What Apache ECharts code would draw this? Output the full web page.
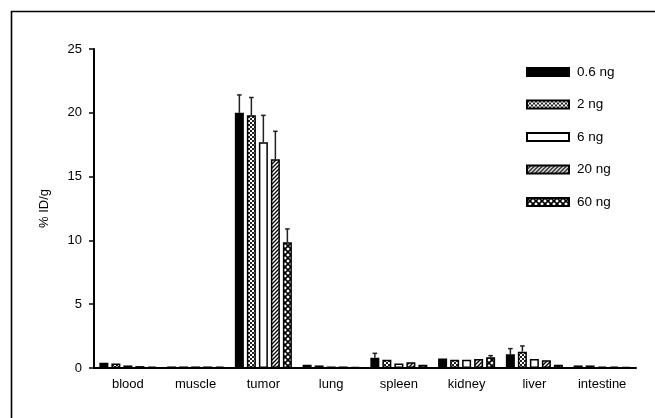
<!DOCTYPE html>
<html><head><meta charset="utf-8">
<script src="https://cdn.jsdelivr.net/npm/echarts@6/dist/echarts.min.js"></script>
<style>html,body{margin:0;padding:0;background:#fff}#c{width:655px;height:418px}</style>
</head><body><div id="c"></div>
<script>
// ---- data ----
const categories = ['blood','muscle','tumor','lung','spleen','kidney','liver','intestine'];
const seriesNames = ['0.6 ng','2 ng','6 ng','20 ng','60 ng'];
const v06 = [0.42,0.12,20.0,0.25,0.8,0.75,1.07,0.2];
const e06 = [0.05,0,1.4,0.03,0.35,0.1,0.45,0.03];
const v2  = [0.35,0.12,19.8,0.2,0.65,0.65,1.28,0.2];
const e2  = [0.05,0,1.4,0.03,0.1,0.05,0.45,0.03];
const v6  = [0.2,0.12,17.7,0.12,0.35,0.65,0.7,0.1];
const e6  = [0.03,0,2.1,0.02,0.05,0.05,0.1,0.02];
const v20 = [0.15,0.12,16.35,0.12,0.45,0.7,0.6,0.1];
const e20 = [0.03,0,2.2,0.02,0.08,0.08,0.1,0.02];
const v60 = [0.1,0.1,9.85,0.08,0.25,0.85,0.25,0.08];
const e60 = [0.02,0,1.05,0.02,0.05,0.12,0.05,0.02];
const yTicks = [0,5,10,15,20,25];

const values = [v06, v2, v6, v20, v60];
const errors = [e06, e2, e6, e20, e60];

// ---- patterns ----
function pattern(kind){
  const c = document.createElement('canvas');
  const ctx = c.getContext('2d');
  if (kind === 'checker'){
    c.width = 4; c.height = 4;
    ctx.fillStyle = '#fff'; ctx.fillRect(0,0,4,4);
    ctx.fillStyle = '#222';
    ctx.fillRect(0,0,2,2); ctx.fillRect(2,2,2,2);
  } else if (kind === 'diag'){
    c.width = 4; c.height = 4;
    ctx.fillStyle = '#fff'; ctx.fillRect(0,0,4,4);
    ctx.strokeStyle = '#000'; ctx.lineWidth = 1.3;
    ctx.beginPath();
    ctx.moveTo(-1,5); ctx.lineTo(5,-1);
    ctx.moveTo(-1,1); ctx.lineTo(1,-1);
    ctx.moveTo(3,5); ctx.lineTo(5,3);
    ctx.stroke();
  } else if (kind === 'diamond'){
    c.width = 6; c.height = 6;
    ctx.fillStyle = '#fff'; ctx.fillRect(0,0,6,6);
    ctx.strokeStyle = '#000'; ctx.lineWidth = 1.6;
    ctx.beginPath();
    ctx.moveTo(0,0); ctx.lineTo(6,6);
    ctx.moveTo(6,0); ctx.lineTo(0,6);
    ctx.stroke();
  }
  return { image: c, repeat: 'repeat' };
}
const fills = ['#000', pattern('checker'), '#fff', pattern('diag'), pattern('diamond')];

const FONT = 'Liberation Sans, Arial, sans-serif';
const BW = 9, STEP = 12;

const series = [];
seriesNames.forEach((name, i) => {
  series.push({
    name, type: 'bar', data: values[i],
    barWidth: BW, barGap: '33.4%',
    itemStyle: { color: fills[i], borderColor: '#000', borderWidth: 1.5 },
    emphasis: { disabled: true },
    z: 2
  });
});
seriesNames.forEach((name, i) => {
  series.push({
    name: 'err' + i, type: 'custom', z: 3, silent: true,
    data: values[i].map((v, k) => [k, v, v + errors[i][k]]),
    renderItem: function(params, api){
      const base = api.coord([api.value(0), api.value(1)]);
      const top = api.coord([api.value(0), api.value(2)]);
      if (base[1] - top[1] < 1.5) return null;
      const x = base[0] + (i - 2) * STEP;
      const st = { stroke: '#222', lineWidth: 1.5 };
      return { type: 'group', children: [
        { type: 'line', shape: { x1: x, y1: base[1], x2: x, y2: top[1] }, style: st },
        { type: 'line', shape: { x1: x - 2.3, y1: top[1], x2: x + 2.3, y2: top[1] }, style: st }
      ]};
    }
  });
});

const chart = echarts.init(document.getElementById('c'), null, { renderer: 'canvas' });
chart.setOption({
  animation: false,
  backgroundColor: '#fff',
  textStyle: { fontFamily: FONT },
  graphic: [{
    type: 'rect', silent: true,
    shape: { x: 11.5, y: 11.5, width: 700, height: 500 },
    style: { fill: 'none', stroke: '#000', lineWidth: 1.6 }
  }],
  grid: { left: 94, right: 19, top: 49, bottom: 50 },
  legend: {
    data: seriesNames, orient: 'vertical', left: 526, top: 64, padding: 0,
    itemWidth: 42, itemHeight: 8, itemGap: 16.5, icon: 'rect',
    textStyle: { fontSize: 13.5, color: '#000', fontFamily: FONT, lineHeight: 16, padding: [0, 0, 0, 3] },
    selectedMode: false
  },
  xAxis: {
    type: 'category', data: categories,
    axisLine: { lineStyle: { color: '#000', width: 2 } },
    axisTick: { alignWithLabel: true, length: 6, lineStyle: { color: '#000', width: 1.5 } },
    axisLabel: { color: '#000', fontSize: 13, margin: 10, fontFamily: FONT }
  },
  yAxis: {
    type: 'value', min: yTicks[0], max: yTicks[yTicks.length - 1], interval: 5,
    name: '% ID/g', nameLocation: 'middle', nameGap: 43, nameRotate: 90,
    nameTextStyle: { color: '#000', fontSize: 13, fontFamily: FONT },
    axisLine: { show: true, lineStyle: { color: '#000', width: 2 } },
    axisTick: { show: true, length: 5, lineStyle: { color: '#000', width: 1.5 } },
    axisLabel: { color: '#000', fontSize: 13, margin: 12, fontFamily: FONT },
    splitLine: { show: false }
  },
  series
});
</script>
</body></html>
